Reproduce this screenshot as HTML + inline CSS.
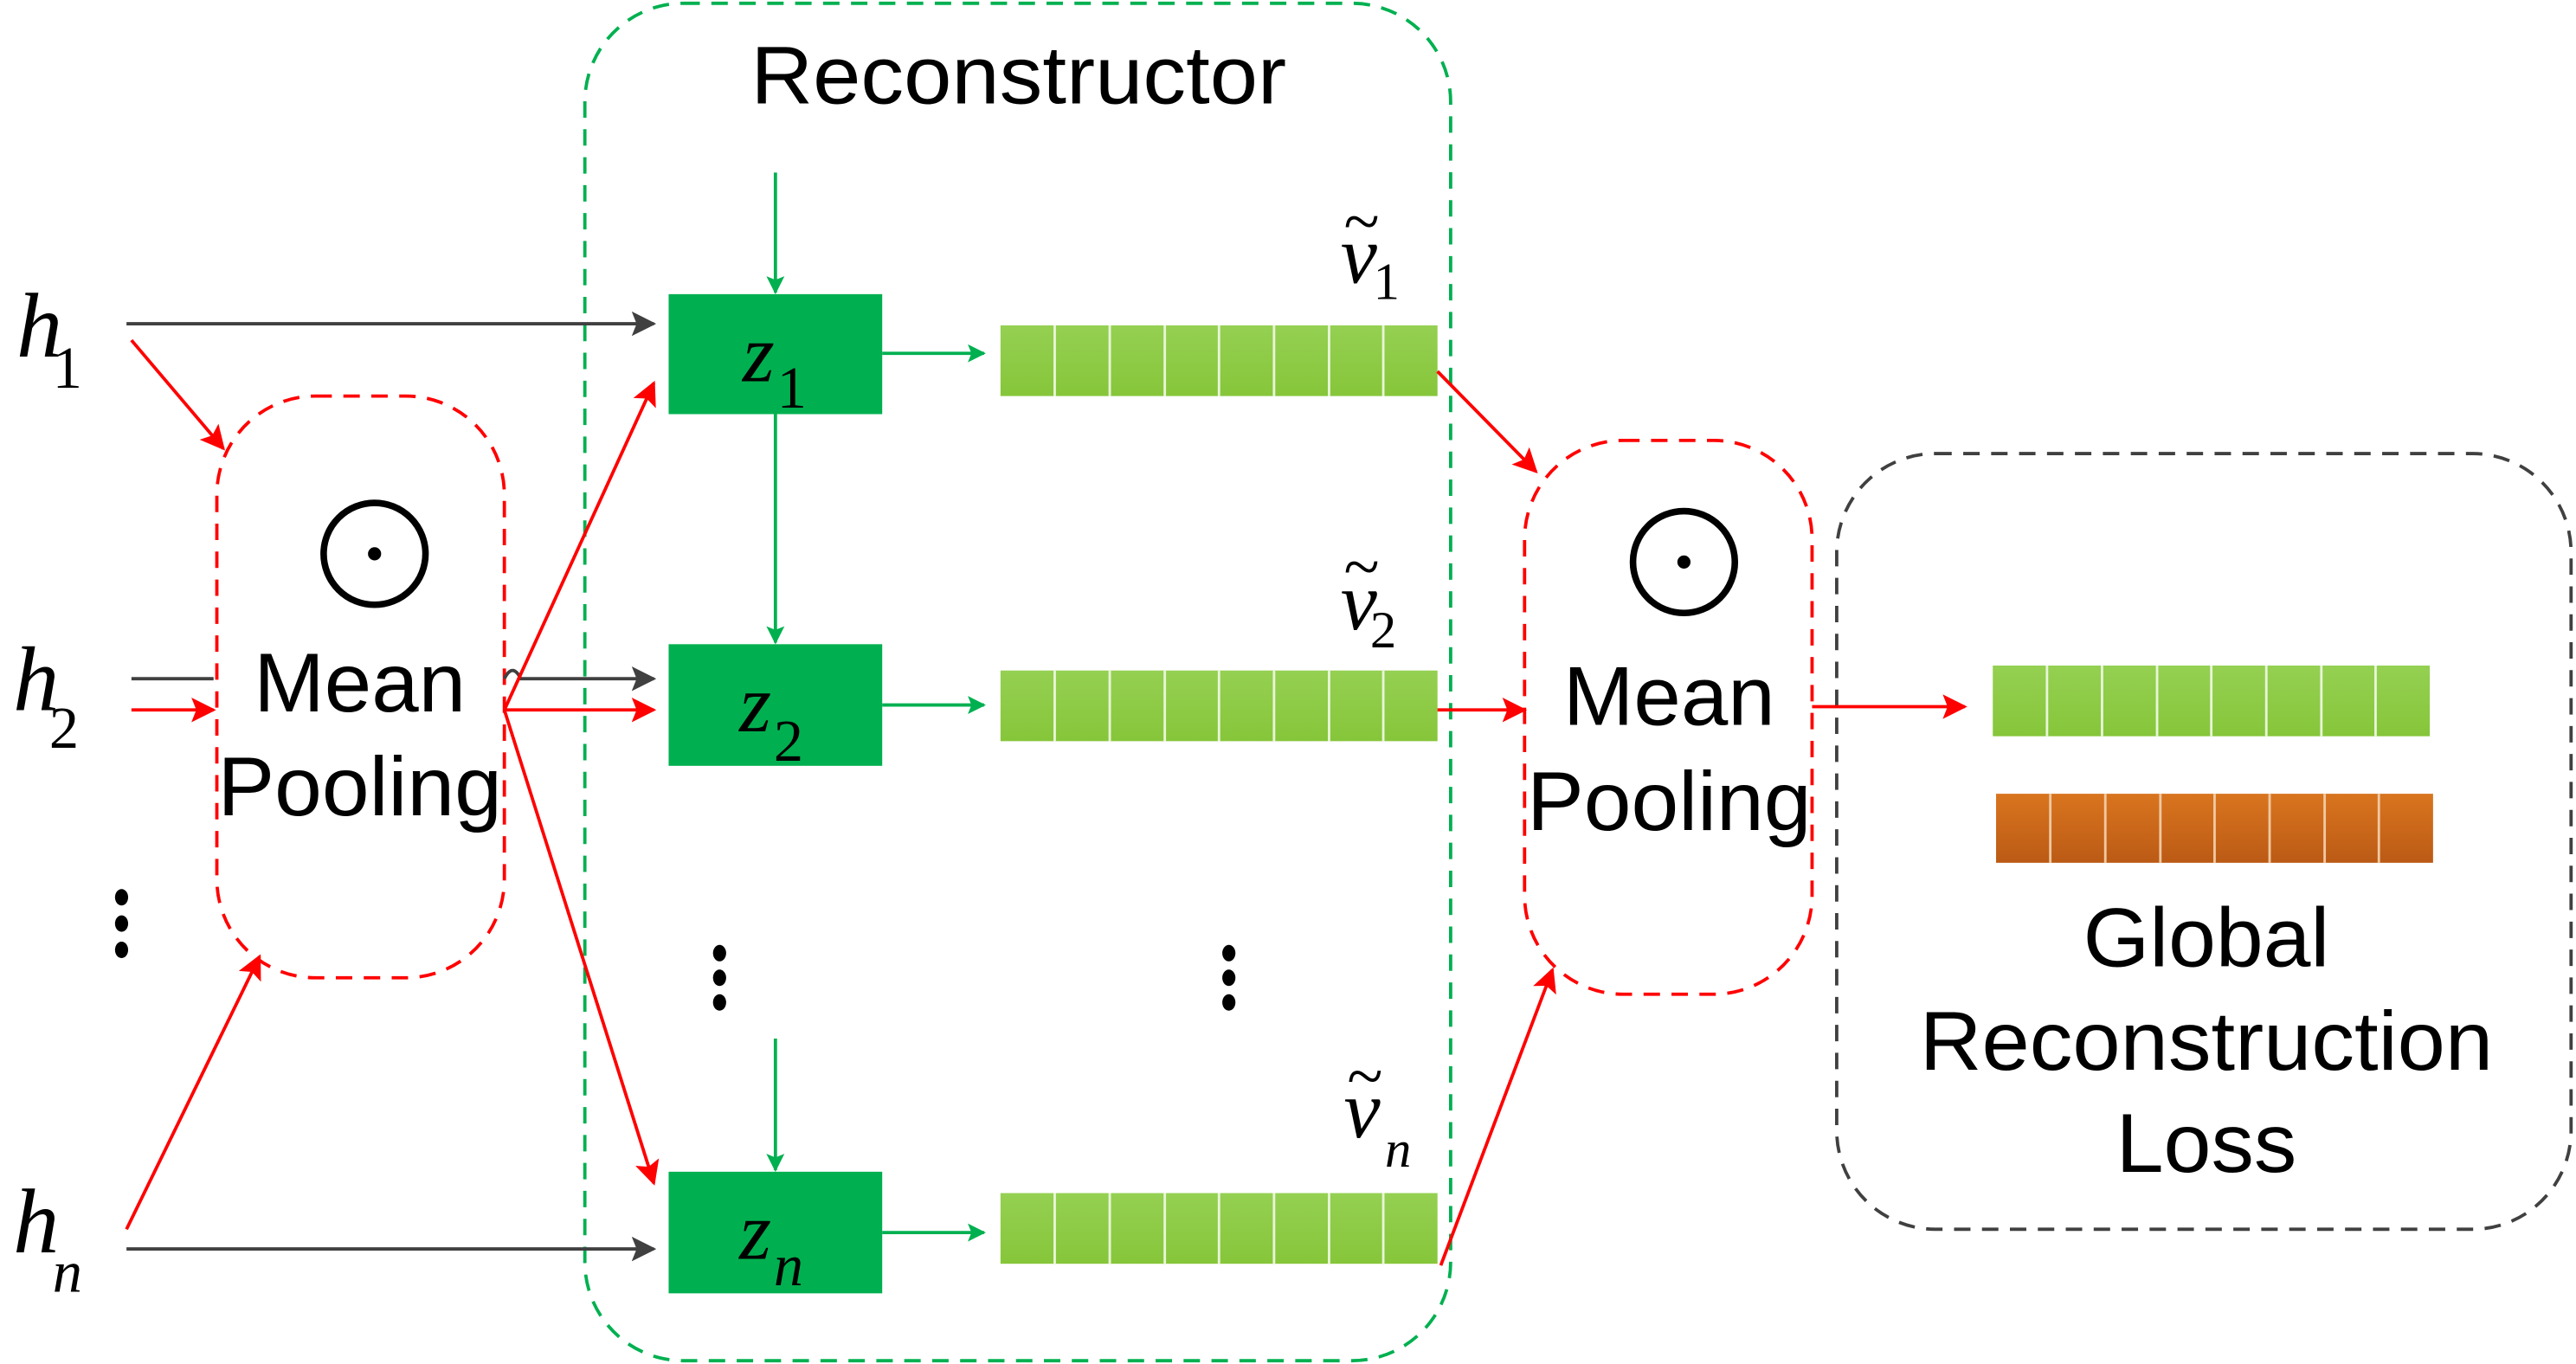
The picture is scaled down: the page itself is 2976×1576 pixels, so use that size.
<!DOCTYPE html>
<html><head><meta charset="utf-8"><style>html,body{margin:0;padding:0;background:#fff}svg{display:block}
.s{font-family:"Liberation Sans",Arial,sans-serif}
.m{font-family:"Liberation Serif","Times New Roman",serif}
</style></head>
<body>
<svg width="2976" height="1576" viewBox="0 0 1568 830" xmlns="http://www.w3.org/2000/svg" preserveAspectRatio="none">
<defs>
<marker id="ag" viewBox="0 0 10 10" refX="9" refY="5" markerWidth="11" markerHeight="11" markerUnits="userSpaceOnUse" orient="auto"><path d="M0,0 L10,5 L0,10 L2,5 Z" fill="#00b050"/></marker>
<marker id="ar" viewBox="0 0 10 10" refX="9" refY="5" markerWidth="15" markerHeight="15" markerUnits="userSpaceOnUse" orient="auto"><path d="M0,0 L10,5 L0,10 L2,5 Z" fill="#ff0000"/></marker>
<marker id="ak" viewBox="0 0 10 10" refX="9" refY="5" markerWidth="15" markerHeight="15" markerUnits="userSpaceOnUse" orient="auto"><path d="M0,0 L10,5 L0,10 L2,5 Z" fill="#404040"/></marker>
<linearGradient id="gg" x1="0" y1="0" x2="0" y2="1"><stop offset="0" stop-color="#95d052"/><stop offset="1" stop-color="#86c63a"/></linearGradient>
<linearGradient id="go" x1="0" y1="0" x2="0" y2="1"><stop offset="0" stop-color="#d9751f"/><stop offset="1" stop-color="#bb5a15"/></linearGradient>
<g id="bar"><rect x="0" y="0" width="266" height="43" fill="url(#gg)"/>
<g stroke="#e8f5d8" stroke-width="1.5"><line x1="33" y1="0" x2="33" y2="43"/><line x1="66.5" y1="0" x2="66.5" y2="43"/><line x1="100" y1="0" x2="100" y2="43"/><line x1="133" y1="0" x2="133" y2="43"/><line x1="166.5" y1="0" x2="166.5" y2="43"/><line x1="200" y1="0" x2="200" y2="43"/><line x1="233" y1="0" x2="233" y2="43"/></g></g>
</defs>
<rect x="356" y="2" width="527" height="826" rx="60" fill="none" stroke="#00b050" stroke-width="2" stroke-dasharray="10,7"/>
<text class="s" x="620" y="63" font-size="50" text-anchor="middle" textLength="326" lengthAdjust="spacingAndGlyphs">Reconstructor</text>
<rect x="132" y="241" width="175" height="354" rx="60" fill="none" stroke="#ff0000" stroke-width="2" stroke-dasharray="10,7"/>
<circle cx="228" cy="337" r="31" fill="none" stroke="#000" stroke-width="4"/><circle cx="228" cy="337" r="4" fill="#000"/>
<text class="s" x="219" y="433" font-size="51" text-anchor="middle" textLength="129" lengthAdjust="spacingAndGlyphs">Mean</text>
<text class="s" x="219" y="496" font-size="51" text-anchor="middle" textLength="173" lengthAdjust="spacingAndGlyphs">Pooling</text>
<rect x="928" y="268" width="175" height="337" rx="60" fill="none" stroke="#ff0000" stroke-width="2" stroke-dasharray="10,7"/>
<circle cx="1025" cy="342" r="31" fill="none" stroke="#000" stroke-width="4"/><circle cx="1025" cy="342" r="4" fill="#000"/>
<text class="s" x="1016" y="441" font-size="51" text-anchor="middle" textLength="129" lengthAdjust="spacingAndGlyphs">Mean</text>
<text class="s" x="1016" y="505" font-size="51" text-anchor="middle" textLength="173" lengthAdjust="spacingAndGlyphs">Pooling</text>
<rect x="1118" y="276" width="447" height="472" rx="60" fill="none" stroke="#404040" stroke-width="2" stroke-dasharray="10,7"/>
<use href="#bar" x="1213" y="405"/>
<rect x="1215" y="483" width="266" height="42" fill="url(#go)"/>
<g stroke="#f0c8a0" stroke-width="1.5"><line x1="1248" y1="483" x2="1248" y2="525"/><line x1="1281.5" y1="483" x2="1281.5" y2="525"/><line x1="1315" y1="483" x2="1315" y2="525"/><line x1="1348" y1="483" x2="1348" y2="525"/><line x1="1381.5" y1="483" x2="1381.5" y2="525"/><line x1="1415" y1="483" x2="1415" y2="525"/><line x1="1448" y1="483" x2="1448" y2="525"/></g>
<g class="s" font-size="51" text-anchor="middle">
<text x="1343" y="588" textLength="150" lengthAdjust="spacingAndGlyphs">Global</text><text x="1343" y="651" textLength="349" lengthAdjust="spacingAndGlyphs">Reconstruction</text><text x="1343" y="713" textLength="110" lengthAdjust="spacingAndGlyphs">Loss</text></g>
<rect x="407" y="179" width="130" height="73" fill="#00b050"/>
<rect x="407" y="392" width="130" height="74" fill="#00b050"/>
<rect x="407" y="713" width="130" height="74" fill="#00b050"/>
<g class="m" font-style="italic" fill="#000">
<text x="452" y="232" font-size="50">z</text><text x="473" y="248" font-size="36" font-style="normal">1</text>
<text x="450" y="445" font-size="50">z</text><text x="471" y="463" font-size="36" font-style="normal">2</text>
<text x="450" y="766" font-size="50">z</text><text x="471" y="782" font-size="36">n</text>
<text x="10" y="217" font-size="56">h</text><text x="32" y="236" font-size="36" font-style="normal">1</text>
<text x="8" y="432" font-size="56">h</text><text x="30" y="455" font-size="36" font-style="normal">2</text>
<text x="8" y="762" font-size="56">h</text><text x="32" y="786" font-size="36">n</text>
<text x="816" y="172" font-size="50">v</text><text x="836" y="182" font-size="32" font-style="normal">1</text>
<text x="816" y="383" font-size="50">v</text><text x="834" y="394" font-size="32" font-style="normal">2</text>
<text x="818" y="692" font-size="50">v</text><text x="843" y="710" font-size="32">n</text>
</g>
<g class="m" font-size="40">
<text x="818" y="148">~</text><text x="818" y="358">~</text><text x="820" y="668">~</text></g>
<use href="#bar" x="609" y="198"/>
<use href="#bar" x="609" y="408"/>
<use href="#bar" x="609" y="726"/>
<g fill="#000"><ellipse cx="74" cy="546" rx="4" ry="5"/><ellipse cx="74" cy="562" rx="4" ry="5"/><ellipse cx="74" cy="578" rx="4" ry="5"/>
<ellipse cx="438" cy="580" rx="4" ry="5"/><ellipse cx="438" cy="595" rx="4" ry="5"/><ellipse cx="438" cy="610" rx="4" ry="5"/>
<ellipse cx="748" cy="580" rx="4" ry="5"/><ellipse cx="748" cy="595" rx="4" ry="5"/><ellipse cx="748" cy="610" rx="4" ry="5"/></g>
<g stroke="#00b050" stroke-width="2" fill="none">
<line x1="472" y1="105" x2="472" y2="178" marker-end="url(#ag)"/>
<line x1="472" y1="252" x2="472" y2="391" marker-end="url(#ag)"/>
<line x1="472" y1="632" x2="472" y2="712" marker-end="url(#ag)"/>
<line x1="537" y1="215" x2="599" y2="215" marker-end="url(#ag)"/>
<line x1="537" y1="429" x2="599" y2="429" marker-end="url(#ag)"/>
<line x1="537" y1="750" x2="599" y2="750" marker-end="url(#ag)"/>
</g>
<g stroke="#404040" stroke-width="2" fill="none">
<line x1="77" y1="197" x2="398" y2="197" marker-end="url(#ak)"/>
<line x1="80" y1="413" x2="130" y2="413"/>
<path d="M307,413 Q312,403 317,413 L398,413" marker-end="url(#ak)"/>
<line x1="77" y1="760" x2="398" y2="760" marker-end="url(#ak)"/>
</g>
<g stroke="#ff0000" stroke-width="2" fill="none">
<line x1="80" y1="207" x2="136" y2="273" marker-end="url(#ar)"/>
<line x1="80" y1="432" x2="130" y2="432" marker-end="url(#ar)"/>
<line x1="77" y1="748" x2="158" y2="582" marker-end="url(#ar)"/>
<line x1="307" y1="432" x2="398" y2="432" marker-end="url(#ar)"/>
<line x1="307" y1="432" x2="398" y2="233" marker-end="url(#ar)"/>
<line x1="307" y1="432" x2="398" y2="720" marker-end="url(#ar)"/>
<line x1="875" y1="226" x2="935" y2="287" marker-end="url(#ar)"/>
<line x1="875" y1="432" x2="928" y2="432" marker-end="url(#ar)"/>
<line x1="877" y1="770" x2="945" y2="590" marker-end="url(#ar)"/>
<line x1="1103" y1="430" x2="1196" y2="430" marker-end="url(#ar)"/>
</g>
</svg>
</body></html>
